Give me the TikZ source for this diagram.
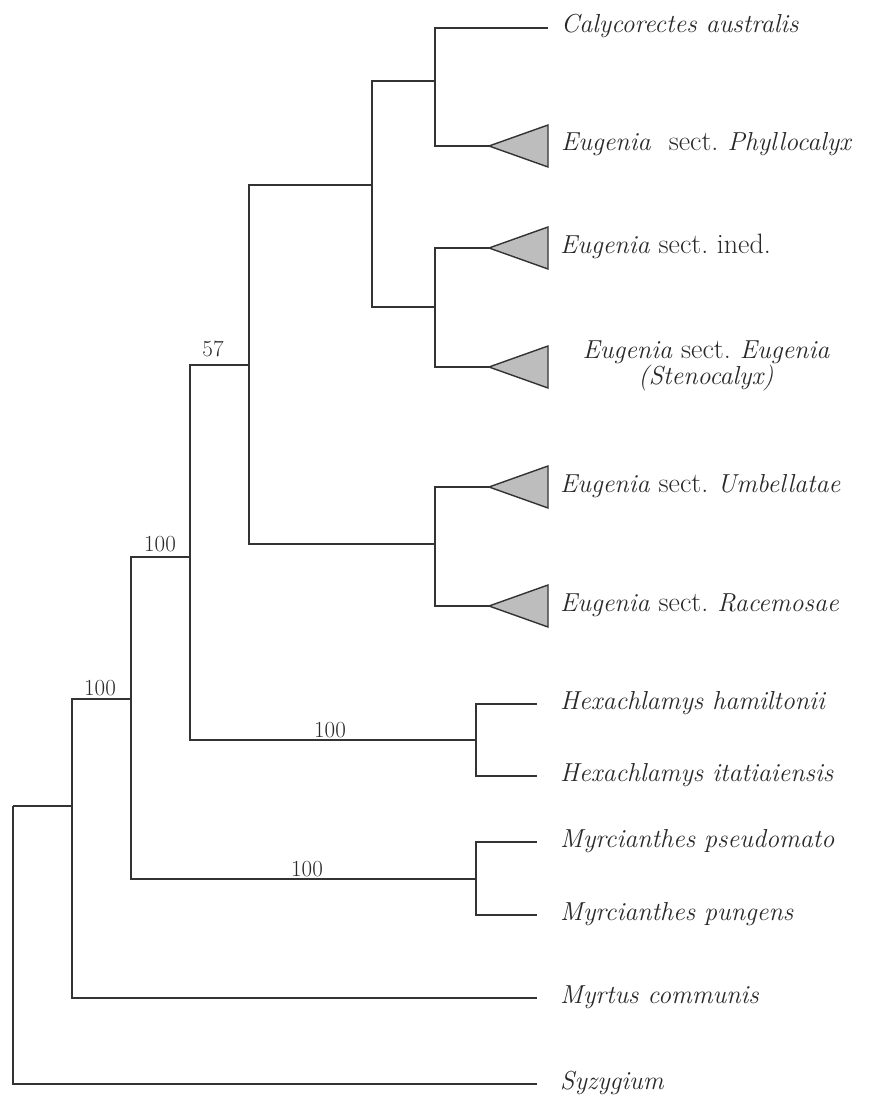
\documentclass[tikz,border=0pt]{standalone}
\usepackage{fontspec}
\definecolor{linecol}{gray}{0.2}
\definecolor{trifill}{gray}{0.74}
\definecolor{textcol}{gray}{0.16}
\newcommand{\sectup}[1]{{\fontsize{28}{32}\selectfont\upshape #1}}
\begin{document}
\frenchspacing
\begin{tikzpicture}[x=1pt,y=-1pt,
  br/.style={draw=linecol, line width=1.4pt, line join=miter},
  tri/.style={draw=linecol, line width=1.4pt, fill=trifill, line join=miter},
  taxon/.style={anchor=base west, inner sep=0pt, font=\fontsize{26}{30}\selectfont\itshape\frenchspacing, text=textcol},
  taxonc/.style={anchor=base, inner sep=0pt, font=\fontsize{26}{30}\selectfont\itshape\frenchspacing, text=textcol},
  supp/.style={anchor=base, inner sep=0pt, font=\fontsize{23}{27}\selectfont, text=textcol}]
\useasboundingbox (0,0) rectangle (875,1099);

% internal nodes (x of the node, y of its incoming branch)
\coordinate (r)  at (13,806);
\coordinate (a)  at (72,806);
\coordinate (b)  at (131,699);
\coordinate (c)  at (190,557);
\coordinate (d)  at (249,365);
\coordinate (e)  at (372,185);
\coordinate (f)  at (435,81);
\coordinate (g)  at (435,307);
\coordinate (h)  at (435,544);
\coordinate (hx) at (476,740);
\coordinate (my) at (476,879);

% leaf ends
\coordinate (Lcal) at (548,28);
\coordinate (Tphy) at (489,146);
\coordinate (Tine) at (489,248);
\coordinate (Teug) at (489,367);
\coordinate (Tumb) at (489,487);
\coordinate (Trac) at (489,606);
\coordinate (Lham) at (537,704);
\coordinate (Lita) at (537,776);
\coordinate (Lpse) at (537,842);
\coordinate (Lpun) at (537,915);
\coordinate (Lmyr) at (537,998);
\coordinate (Lsyz) at (537,1084);

% branches
\draw[br] (a) -| (r);
\draw[br] (Lsyz) -| (r);
\draw[br] (b) -| (a);
\draw[br] (Lmyr) -| (a);
\draw[br] (c) -| (b);
\draw[br] (my) -| (b);
\draw[br] (d) -| (c);
\draw[br] (hx) -| (c);
\draw[br] (e) -| (d);
\draw[br] (h) -| (d);
\draw[br] (f) -| (e);
\draw[br] (g) -| (e);
\draw[br] (Lcal) -| (f);
\draw[br] (Tphy) -| (f);
\draw[br] (Tine) -| (g);
\draw[br] (Teug) -| (g);
\draw[br] (Tumb) -| (h);
\draw[br] (Trac) -| (h);
\draw[br] (Lham) -| (hx);
\draw[br] (Lita) -| (hx);
\draw[br] (Lpse) -| (my);
\draw[br] (Lpun) -| (my);

% collapsed clades
\foreach \t in {Tphy,Tine,Teug,Tumb,Trac}
  \draw[tri] (\t) -- ++(59,-21) -- ++(0,42) -- cycle;

% support values
\node[supp] (s57)   at (213,356) {57};
\node[supp] (s100c) at (160,551) {100};
\node[supp] (s100b) at (100,695) {100};
\node[supp] (s100h) at (330,737) {100};
\node[supp] (s100m) at (307,876) {100};

% taxon labels
\node[taxon] (ncal) at (561,33)  {Calycorectes australis};
\node[taxon] (nphy) at (561,151) {Eugenia\ \ \sectup{sect.} Phyllocalyx};
\node[taxon] (nine) at (560,253) {Eugenia \sectup{sect. ined.}};
\node[taxonc] (neug) at (706,358) {Eugenia \sectup{sect.} Eugenia};
\node[taxonc] (nste) at (706,384) {(Stenocalyx)};
\node[taxon] (numb) at (560,492) {Eugenia \sectup{sect.} Umbellatae};
\node[taxon] (nrac) at (560,611) {Eugenia \sectup{sect.} Racemosae};
\node[taxon] (nham) at (560,709) {Hexachlamys hamiltonii};
\node[taxon] (nita) at (560,781) {Hexachlamys itatiaiensis};
\node[taxon] (npse) at (560,847) {Myrcianthes pseudomato};
\node[taxon] (npun) at (560,920) {Myrcianthes pungens};
\node[taxon] (nmyr) at (560,1003) {Myrtus communis};
\node[taxon] (nsyz) at (560,1089) {Syzygium};
\end{tikzpicture}
\end{document}
